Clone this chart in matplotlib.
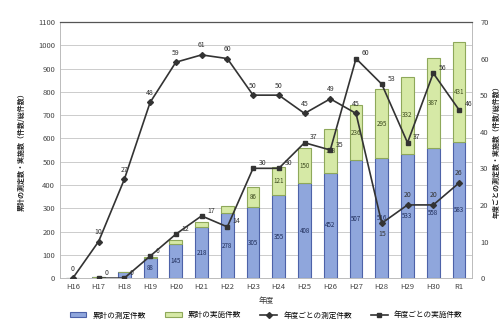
import numpy as np
import matplotlib
matplotlib.use('Agg')
import matplotlib.pyplot as plt

plt.rcParams['font.family'] = ['Noto Sans CJK JP', 'DejaVu Sans']

# 年度
years = ['H16', 'H17', 'H18', 'H19', 'H20', 'H21', 'H22', 'H23', 'H24',
         'H25', 'H26', 'H27', 'H28', 'H29', 'H30', 'R1']

# 累計（棒グラフ、左軸）
cum_measured = [0, 3, 25, 88, 145, 218, 278, 305, 355, 408, 452, 507, 516, 533, 558, 583]
cum_conducted = [0, 0, 2, 2, 18, 22, 32, 86, 121, 150, 188, 236, 295, 332, 387, 431]

# 年度ごと（折れ線、右軸）
yearly_measured = [0, 10, 27, 48, 59, 61, 60, 50, 50, 45, 49, 45, 15, 20, 20, 26]
yearly_conducted = [np.nan, 0, 0, 6, 12, 17, 14, 30, 30, 37, 35, 60, 53, 37, 56, 46]

blue = '#8fa6dc'
blue_edge = '#4d62a8'
green = '#d6e9a6'
green_edge = '#8ea85a'
line_c = '#333333'

fig = plt.figure(figsize=(5.02, 3.23), dpi=100)
ax = fig.add_axes([0.1195, 0.139, 0.8205, 0.793])
x = np.arange(len(years))

b1 = ax.bar(x, cum_measured, width=0.5, color=blue, edgecolor=blue_edge, linewidth=0.8,
            label='累計の測定件数', zorder=2)
b2 = ax.bar(x, cum_conducted, width=0.5, bottom=cum_measured, color=green,
            edgecolor=green_edge, linewidth=0.8, label='累計の実施件数', zorder=2)

# 棒の中の数値
for i in range(len(years)):
    if cum_measured[i] >= 60:
        ax.text(x[i], cum_measured[i] / 2, str(cum_measured[i]), ha='center', va='center',
                fontsize=4.5, color='#1f2d5a', zorder=3)
    if cum_conducted[i] >= 60:
        ax.text(x[i], cum_measured[i] + cum_conducted[i] / 2, str(cum_conducted[i]),
                ha='center', va='center', fontsize=4.5, color='#3c4a1e', zorder=3)

ax.set_ylim(0, 1100)
ax.set_yticks(range(0, 1101, 100))
ax.set_xlim(-0.5, len(years) - 0.5)
ax.set_xticks(x)
ax.set_xticklabels(years)
ax.tick_params(axis='both', labelsize=5.5, length=0, colors='#444444')
ax.grid(axis='y', color='#cccccc', linewidth=0.7, zorder=0)
ax.set_axisbelow(True)
for side in ['left', 'right', 'bottom']:
    ax.spines[side].set_color('#bbbbbb')
    ax.spines[side].set_linewidth(0.7)
ax.spines['top'].set_color('#555555')
ax.spines['top'].set_linewidth(0.9)
ax.set_xlabel('年度', fontsize=5.5, color='#333333', labelpad=4)
ax.set_ylabel('累計の測定数・実施数（件数/総件数）', fontsize=5, color='#222222',
              fontweight='bold', labelpad=10)

ax2 = ax.twinx()
ax2.set_ylim(0, 70)
ax2.set_yticks(range(0, 71, 10))
ax2.tick_params(axis='y', labelsize=5.5, length=0, colors='#444444', pad=6)
for side in ['left', 'right', 'bottom', 'top']:
    ax2.spines[side].set_visible(False)
ax2.set_ylabel('年度ごとの測定数・実施数（件数/総件数）', fontsize=5, color='#222222',
               fontweight='bold', labelpad=3)

l1, = ax2.plot(x, yearly_measured, color=line_c, linewidth=1.2, marker='D', markersize=3,
               label='年度ごとの測定件数', zorder=4)
l2, = ax2.plot(x, yearly_conducted, color=line_c, linewidth=1.2, marker='s', markersize=3,
               label='年度ごとの実施件数', zorder=4)

for i, v in enumerate(yearly_measured):
    # H28 は下側に表示
    below = years[i] == 'H28'
    ax2.annotate(str(v), (x[i], v), xytext=(0, -5 if below else 4), textcoords='offset points',
                 ha='center', va='top' if below else 'bottom', fontsize=5, color='#333333',
                 zorder=5)
for i, v in enumerate(yearly_conducted):
    if np.isnan(v):
        continue
    ax2.annotate(str(int(v)), (x[i], v), xytext=(4, 1), textcoords='offset points',
                 ha='left', va='bottom', fontsize=5, color='#333333', zorder=5)

fig.legend(handles=[b1, b2, l1, l2], loc='lower center', ncol=4, frameon=False,
           fontsize=5.5, bbox_to_anchor=(0.53, -0.01), handlelength=2.2, columnspacing=2.5)

fig.savefig('out.png', dpi=100)
